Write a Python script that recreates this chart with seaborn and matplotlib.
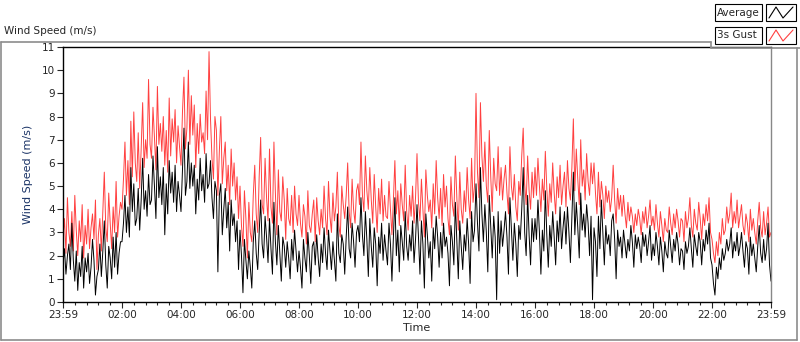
import numpy as np
import pandas as pd
import matplotlib.pyplot as plt
import seaborn as sns
from matplotlib.lines import Line2D
from matplotlib.patches import Rectangle

# hours after 23:59, every 3 minutes (one row = one hour)
hours = np.round(np.arange(0, 24.001, 0.05), 2)

gust = [
    2.8, 3.6, 2.1, 4.5, 3.0, 2.4, 3.9, 2.2, 4.6, 3.1, 2.0, 3.5, 2.6, 4.2, 1.9, 3.3, 2.5, 4.0, 2.3, 3.2,
    3.8, 2.7, 4.4, 1.4, 2.9, 3.6, 2.2, 3.9, 5.6, 3.2, 2.6, 4.7, 3.4, 2.3, 4.1, 3.0, 5.2, 2.8, 3.7, 4.3,
    4.0, 5.3, 6.9, 4.6, 6.1, 4.2, 7.8, 5.4, 8.2, 6.0, 5.2, 7.3, 4.9, 6.6, 8.6, 5.8, 7.0, 6.2, 9.6, 6.8,
    6.2, 8.4, 7.1, 5.7, 9.3, 6.8, 7.7, 6.5, 8.0, 5.9, 7.4, 5.6, 8.8, 6.3, 7.9, 6.9, 8.3, 6.0, 7.6, 6.7,
    5.9, 8.2, 9.7, 6.6, 7.5, 10.0, 6.8, 8.9, 7.2, 8.5, 5.8, 7.7, 6.4, 8.1, 6.9, 7.3, 6.4, 9.1, 7.0, 10.8,
    7.9, 6.2, 5.3, 8.0, 7.4, 4.6, 6.5, 8.0, 5.1, 6.2, 6.9, 4.8, 5.9, 4.2, 6.6, 5.0, 6.0, 4.4, 5.4, 3.6,
    5.0, 3.3, 2.4, 4.8, 3.6, 1.9, 4.3, 3.0, 2.6, 4.6, 5.9, 3.8, 3.0, 5.4, 7.1, 4.2, 3.8, 6.2, 4.5, 3.5,
    6.6, 4.1, 3.4, 6.9, 4.7, 2.9, 5.7, 3.9, 3.5, 5.4, 4.4, 2.7, 4.9, 3.6, 3.3, 4.6, 3.0, 5.0, 3.8, 3.3,
    4.6, 3.4, 2.8, 4.2, 3.7, 2.5, 4.8, 3.3, 3.0, 3.8, 4.4, 2.6, 4.5, 3.5, 2.9, 4.0, 3.2, 5.0, 3.6, 2.9,
    5.2, 3.7, 3.0, 4.7, 3.5, 4.1, 5.6, 3.3, 2.8, 5.0, 4.2, 3.6, 4.6, 6.0, 3.9, 3.2, 5.3, 4.0, 3.4, 4.8,
    5.1, 4.2, 6.9, 4.6, 3.9, 6.3, 4.8, 4.0, 5.8, 4.4, 3.4, 5.5, 4.1, 3.0, 4.9, 3.8, 5.3, 3.5, 4.6, 3.7,
    3.6, 5.2, 4.0, 2.9, 4.4, 6.1, 3.8, 4.8, 3.3, 5.1, 4.2, 3.5, 5.9, 3.9, 3.1, 4.6, 3.7, 5.0, 3.4, 4.5,
    6.4, 4.3, 3.5, 5.3, 4.0, 2.8, 5.7, 4.6, 3.9, 4.4, 3.2, 5.1, 3.8, 6.1, 4.5, 3.6, 4.9, 3.3, 5.5, 4.1,
    5.0, 3.6, 2.9, 5.4, 4.2, 3.7, 6.3, 4.5, 3.1, 5.6, 4.0, 3.4, 4.8, 3.9, 5.8, 4.4, 3.6, 6.2, 4.3, 5.0,
    9.0, 5.6, 4.5, 8.6, 6.3, 5.2, 6.9, 5.0, 4.3, 7.4, 5.4, 3.9, 6.2, 5.1, 4.8, 6.7, 4.6, 5.8, 4.4, 5.3,
    5.9, 4.7, 3.8, 6.7, 5.0, 4.4, 5.5, 4.1, 3.5, 5.2, 4.6, 6.3, 7.5, 5.1, 4.2, 6.3, 4.8, 4.0, 5.6, 4.5,
    5.8, 4.6, 6.2, 5.0, 3.9, 5.3, 4.4, 6.5, 4.9, 3.7, 5.1, 4.3, 6.0, 4.7, 3.8, 5.4, 4.5, 5.9, 4.2, 5.0,
    5.6, 4.1, 6.1, 4.9, 4.4, 5.8, 7.9, 4.8, 6.6, 5.3, 4.2, 7.0, 5.0, 5.7, 4.4, 6.4, 5.2, 4.6, 6.0, 5.1,
    6.0, 4.7, 3.8, 5.6, 4.1, 5.2, 4.6, 3.6, 5.0, 4.3, 4.8, 3.9, 4.5, 5.9, 4.4, 3.4, 4.9, 4.0, 4.6, 3.7,
    4.6, 3.8, 3.2, 4.3, 3.5, 4.1, 3.7, 3.0, 3.8, 3.3, 4.0, 3.6, 2.9, 3.9, 3.4, 4.1, 3.2, 3.7, 4.4, 3.3,
    3.7, 3.1, 4.2, 3.4, 2.8, 3.9, 3.3, 2.6, 3.6, 3.1, 3.0, 4.1, 3.4, 2.9, 3.8, 3.2, 4.0, 3.5, 2.8, 3.6,
    3.5, 2.6, 3.9, 3.2, 3.6, 4.5, 3.3, 2.8, 4.0, 3.4, 3.1, 4.3, 3.6, 2.7, 3.8, 3.3, 4.2, 3.5, 4.5, 3.0,
    2.7, 2.1, 1.7, 2.6, 2.0, 3.0, 2.5, 3.6, 2.9, 3.1, 4.1, 3.4, 3.8, 4.7, 3.2, 3.9, 3.4, 4.4, 3.2, 3.7,
    4.2, 3.3, 2.9, 3.8, 3.4, 2.6, 4.0, 3.1, 3.6, 3.0, 2.5, 3.5, 4.3, 3.2, 2.8, 3.9, 2.9, 3.4, 4.1, 2.8,
    3.0,
]

average = [
    1.6, 2.3, 1.2, 2.0, 2.5, 1.4, 3.4, 1.8, 0.9, 2.2, 0.5, 1.7, 1.1, 2.4, 0.6, 1.9, 1.3, 2.1, 0.8, 1.5,
    2.7, 1.8, 0.3, 1.1, 1.4, 2.5, 1.1, 2.2, 3.5, 1.6, 0.6, 2.4, 1.9, 1.0, 2.8, 1.5, 3.0, 1.2, 2.1, 2.6,
    2.6, 3.4, 4.6, 3.0, 4.1, 2.8, 5.8, 3.9, 5.1, 3.3, 3.6, 4.9, 3.1, 4.4, 6.2, 4.0, 4.8, 3.7, 5.5, 4.2,
    4.4, 6.3, 5.0, 3.6, 6.7, 4.5, 5.4, 4.2, 5.8, 2.9, 5.1, 3.8, 6.1, 4.7, 5.6, 4.3, 5.9, 3.9, 5.2, 4.6,
    3.9, 5.7, 7.5, 4.6, 5.2, 6.9, 4.9, 6.0, 5.0, 5.9, 3.8, 5.3, 4.4, 6.2, 4.8, 5.5, 4.3, 6.4, 4.9, 5.1,
    6.1, 4.5, 3.6, 5.2, 4.8, 1.3, 4.6, 5.1, 2.9, 4.0, 4.9, 3.2, 4.3, 2.2, 4.4, 3.3, 3.8, 2.6, 3.5, 1.4,
    3.1, 2.0, 0.4, 2.7, 1.8, 1.0, 2.2, 1.5, 0.6, 2.6, 3.5, 2.1, 1.4, 3.0, 4.4, 2.5, 1.9, 3.7, 2.8, 1.7,
    3.6, 2.3, 1.2, 4.3, 2.6, 1.6, 3.3, 2.1, 0.9, 2.8, 2.4, 1.5, 2.6, 1.9, 1.0, 2.7, 1.8, 3.1, 2.2, 1.3,
    2.2, 1.5, 0.6, 2.7, 1.9, 1.3, 3.0, 2.0, 0.8, 2.4, 2.6, 1.6, 2.9, 1.9, 1.1, 2.5, 1.7, 3.2, 2.1, 1.4,
    3.1, 2.2, 1.4, 2.6, 1.8, 0.9, 3.8, 2.1, 1.7, 2.9, 2.5, 1.2, 2.8, 4.1, 2.3, 1.9, 3.4, 2.6, 1.5, 3.0,
    3.3, 2.6, 4.5, 2.9, 2.0, 3.9, 2.7, 1.1, 3.6, 2.4, 1.5, 3.2, 2.5, 0.7, 2.8, 2.1, 3.4, 1.8, 2.9, 2.2,
    1.6, 3.4, 2.5, 0.9, 2.8, 4.5, 2.0, 3.1, 1.3, 3.3, 2.6, 1.8, 3.9, 2.4, 1.8, 2.9, 2.2, 3.5, 1.7, 2.7,
    4.2, 2.8, 1.2, 3.5, 2.5, 0.6, 3.8, 2.9, 1.9, 2.6, 0.9, 3.2, 2.3, 3.7, 2.8, 1.5, 3.0, 1.9, 3.4, 2.4,
    2.8, 2.1, 0.7, 3.3, 2.6, 1.6, 4.3, 2.7, 1.0, 3.5, 2.4, 1.4, 2.9, 2.2, 3.6, 2.5, 0.8, 3.9, 2.6, 3.1,
    5.1, 3.4, 2.2, 5.8, 3.8, 2.6, 4.2, 3.0, 1.3, 4.6, 3.2, 1.9, 3.7, 2.8, 0.1, 3.9, 2.1, 3.5, 2.4, 3.1,
    3.9, 2.8, 1.2, 4.5, 3.1, 1.8, 3.4, 2.5, 1.1, 3.3, 2.7, 4.0, 5.8, 3.0, 2.0, 4.6, 2.9, 1.6, 3.6, 2.6,
    3.6, 2.7, 4.4, 3.0, 1.2, 3.1, 2.2, 4.8, 2.9, 1.5, 3.3, 2.4, 3.9, 2.8, 1.6, 3.5, 2.6, 4.1, 2.3, 3.2,
    3.9, 2.5, 4.1, 3.0, 1.7, 3.6, 5.6, 2.9, 4.3, 3.2, 1.9, 4.7, 3.1, 3.8, 2.8, 4.2, 3.4, 2.0, 3.7, 0.1,
    3.2, 2.6, 1.1, 3.7, 2.3, 4.4, 3.0, 1.6, 3.3, 2.5, 2.9, 2.0, 3.5, 3.8, 2.7, 1.0, 3.1, 2.4, 2.8, 1.9,
    3.1, 2.5, 1.9, 2.7, 2.2, 3.3, 2.6, 1.5, 2.9, 2.3, 2.8, 2.4, 1.7, 3.0, 2.4, 2.9, 2.0, 2.6, 3.3, 1.8,
    2.5, 2.0, 3.0, 2.4, 1.6, 2.8, 2.2, 1.3, 2.6, 2.1, 1.9, 3.1, 2.4, 1.7, 2.7, 2.2, 3.0, 2.5, 1.6, 2.3,
    2.2, 1.4, 2.6, 2.1, 2.4, 3.2, 2.3, 1.5, 2.9, 2.4, 2.0, 3.0, 2.6, 1.6, 2.7, 2.2, 3.1, 2.5, 3.4, 1.9,
    1.6, 0.8, 0.3, 1.5, 1.0, 1.9, 1.4, 2.3, 1.8, 2.1, 2.7, 2.2, 2.5, 3.2, 1.9, 2.6, 2.2, 3.0, 2.0, 2.4,
    3.0, 2.2, 1.5, 2.6, 2.3, 1.2, 2.8, 2.0, 2.5, 1.9, 1.3, 2.4, 3.3, 2.1, 1.7, 2.7, 1.8, 2.3, 3.4, 1.6,
    0.9,
]

tick_labels = ["23:59", "02:00", "04:00", "06:00", "08:00", "10:00", "12:00",
               "14:00", "16:00", "18:00", "20:00", "22:00", "23:59"]

df = pd.DataFrame({"hours": hours, "gust": gust, "average": average})

sns.set_style("white")
plt.rcParams["font.family"] = ["DejaVu Sans"]

W, H = 800, 342


def fx(x):
    return x / W


def fy(y):
    return 1 - y / H


fig = plt.figure(figsize=(8, 3.42), dpi=100)
ax = fig.add_axes([fx(63), fy(302), fx(771) - fx(63), fy(47) - fy(302)])

sns.lineplot(data=df, x="hours", y="gust", color="#ff4040", lw=0.7, ax=ax)
sns.lineplot(data=df, x="hours", y="average", color="black", lw=0.7, ax=ax)

ax.set_xlim(0, 24)
ax.set_ylim(0, 11)
ax.set_xticks(range(0, 25, 2))
ax.set_xticklabels(tick_labels)
ax.set_xticks(np.arange(0, 24.01, 0.4), minor=True)
ax.set_yticks(range(12))
ax.tick_params(axis="both", which="major", direction="out", length=4, width=0.8,
               labelsize=7.5, pad=2, bottom=True, left=True)
ax.tick_params(axis="x", which="minor", direction="out", length=2.5, width=0.8,
               bottom=True)
for s in ax.spines.values():
    s.set_color("black")
    s.set_linewidth(1.0)
ax.spines["right"].set_color("#888888")

ax.set_xlabel("Time", fontsize=8, labelpad=2)
ax.set_ylabel("Wind Speed (m/s)", fontsize=8, color="#1a3366", labelpad=6)

# chart title above the frame
fig.text(fx(4), fy(31), "Wind Speed (m/s)", fontsize=7.5, va="center", ha="left")

# grey frame around the plot area
frame = [((1, 42), (711, 42)), ((711, 42), (711, 48)), ((711, 48), (800, 48)),
         ((797, 48), (797, 340)), ((1, 42), (1, 340)), ((1, 340), (797, 340))]
for (x0, y0), (x1, y1) in frame:
    fig.add_artist(Line2D([fx(x0), fx(x1)], [fy(y0), fy(y1)], color="#8c8c8c",
                          lw=1.2, transform=fig.transFigure))

# legend boxes
for name, col, top in [("Average", "black", 4), ("3s Gust", "#ff4040", 27)]:
    fig.add_artist(Rectangle((fx(715), fy(top + 17)), fx(762) - fx(715), fy(top) - fy(top + 17),
                             transform=fig.transFigure, fill=True, fc="white",
                             ec="black", lw=0.8))
    fig.text(fx(717), fy(top + 8.5), name, fontsize=7.5, va="center", ha="left")
    fig.add_artist(Rectangle((fx(766), fy(top + 17)), fx(796) - fx(766), fy(top) - fy(top + 17),
                             transform=fig.transFigure, fill=True, fc="white",
                             ec="black", lw=0.8))
    zx = [769, 776, 783, 793]
    zy = [top + 14, top + 3, top + 14, top + 3]
    fig.add_artist(Line2D([fx(v) for v in zx], [fy(v) for v in zy], color=col,
                          lw=0.8, transform=fig.transFigure))

fig.savefig("out.png", dpi=100)
